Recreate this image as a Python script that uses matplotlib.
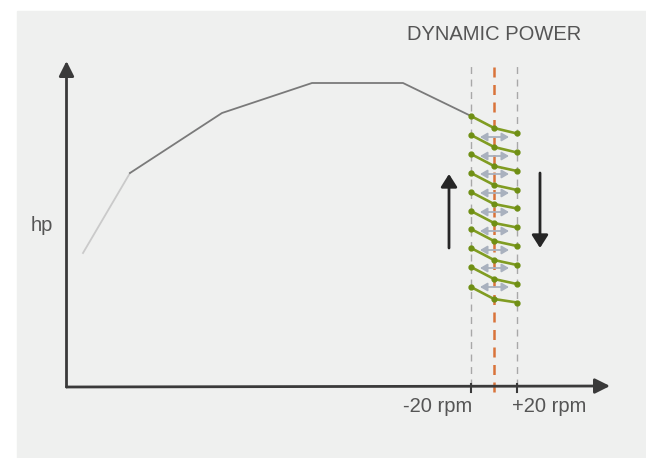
import matplotlib
matplotlib.use("Agg")
import matplotlib.pyplot as plt
from matplotlib.patches import Rectangle

plt.rcParams['font.family'] = ['Liberation Sans', 'DejaVu Sans']

# power curve (rpm units, hp units)
curve_rpm = [16.5, 63.5, 155.5, 245.5, 336.5, 404.5]
curve_hp = [133, 213, 273, 303, 303, 270]

# dynamic power window
rpm_center = 427.5
rpm_low = 404.5
rpm_high = 450.5

# green step segments: hp at low edge, at center, at high edge
seg_hp_low = [270, 251, 232, 213, 194, 175, 157, 138, 119, 99]
seg_hp_mid = [258, 239, 220, 201, 182, 163, 145, 126, 107, 87]
seg_hp_high = [252.5, 233.5, 215, 196, 177.5, 158.5, 140, 121, 102, 83.5]

# small grey double arrows
dbl_hp = [249, 230, 212, 193, 174, 155, 136, 118, 99]
dbl_rpm = (413.5, 442.5)

tick_labels = ["-20 rpm", "+20 rpm"]

bg = "#eff0ef"
fig = plt.figure(figsize=(6.46, 4.58), dpi=100)
fig.patch.set_facecolor("white")
fig.add_artist(Rectangle((17 / 646, 0), 629 / 646, 447 / 458,
                         transform=fig.transFigure, color=bg, zorder=-10))

ax = fig.add_axes([66.5 / 646, 72 / 458, 543.5 / 646, 325 / 458])
ax.set_xlim(0, 543.5)
ax.set_ylim(0, 325)
ax.axis("off")

# axes with arrow heads
axis_style = dict(arrowstyle="-|>,head_length=0.6,head_width=0.3",
                  mutation_scale=15, lw=2, color="#3a3a3a",
                  shrinkA=0, shrinkB=0)
ax.annotate("", xy=(543.5, 0), xytext=(0, -1), arrowprops=axis_style,
            annotation_clip=False)
ax.annotate("", xy=(0, 325), xytext=(0, -1), arrowprops=axis_style,
            annotation_clip=False)

# curve: first stretch fades in
ax.plot(curve_rpm[:2], curve_hp[:2], color="#cacaca", lw=1.3, clip_on=False)
ax.plot(curve_rpm[1:], curve_hp[1:], color="#7a7a7a", lw=1.3, clip_on=False)

# window lines
for r in (rpm_low, rpm_high):
    ax.plot([r, r], [0, 325], color="#a8a8a8", lw=1, ls=(0, (5, 4)), clip_on=False)
    ax.plot([r, r], [2, -6], color="#3a3a3a", lw=1.5, clip_on=False)
ax.plot([rpm_center, rpm_center], [-6, 325], color="#d9733a", lw=1.8,
        ls=(0, (4, 3)), clip_on=False)

# grey double arrows
for h in dbl_hp:
    ax.annotate("", xy=(dbl_rpm[1], h), xytext=(dbl_rpm[0], h),
                arrowprops=dict(arrowstyle="<|-|>,head_length=0.6,head_width=0.35",
                                mutation_scale=7, lw=1.3, color="#a9b1be",
                                shrinkA=0, shrinkB=0))

# green segments
for lo, mid, hi in zip(seg_hp_low, seg_hp_mid, seg_hp_high):
    ax.plot([rpm_low, rpm_center, rpm_high], [lo, mid, hi], color="#809c22",
            lw=1.9, marker="o", ms=3.5, mfc="#6f8f14", mec="#6f8f14",
            clip_on=False, zorder=5)

# direction arrows
big = dict(arrowstyle="-|>,head_length=0.55,head_width=0.35", mutation_scale=14,
           lw=2, color="#262626", shrinkA=0, shrinkB=0)
ax.annotate("", xy=(382.5, 212), xytext=(382.5, 138), arrowprops=big)
ax.annotate("", xy=(473.5, 138), xytext=(473.5, 213), arrowprops=big)

# labels
tc = "#555555"
ax.text(-24.5, 160, "hp", ha="center", va="center", fontsize=14.5, color=tc)
ax.text(rpm_low + 1, -20, tick_labels[0], ha="right", va="center",
        fontsize=14.5, color=tc)
ax.text(rpm_high - 5, -20, tick_labels[1], ha="left", va="center",
        fontsize=14.5, color=tc)
ax.text(rpm_center, 351, "DYNAMIC POWER", ha="center", va="center",
        fontsize=14.5, color=tc)

fig.savefig("out.png", dpi=100, facecolor="white")
